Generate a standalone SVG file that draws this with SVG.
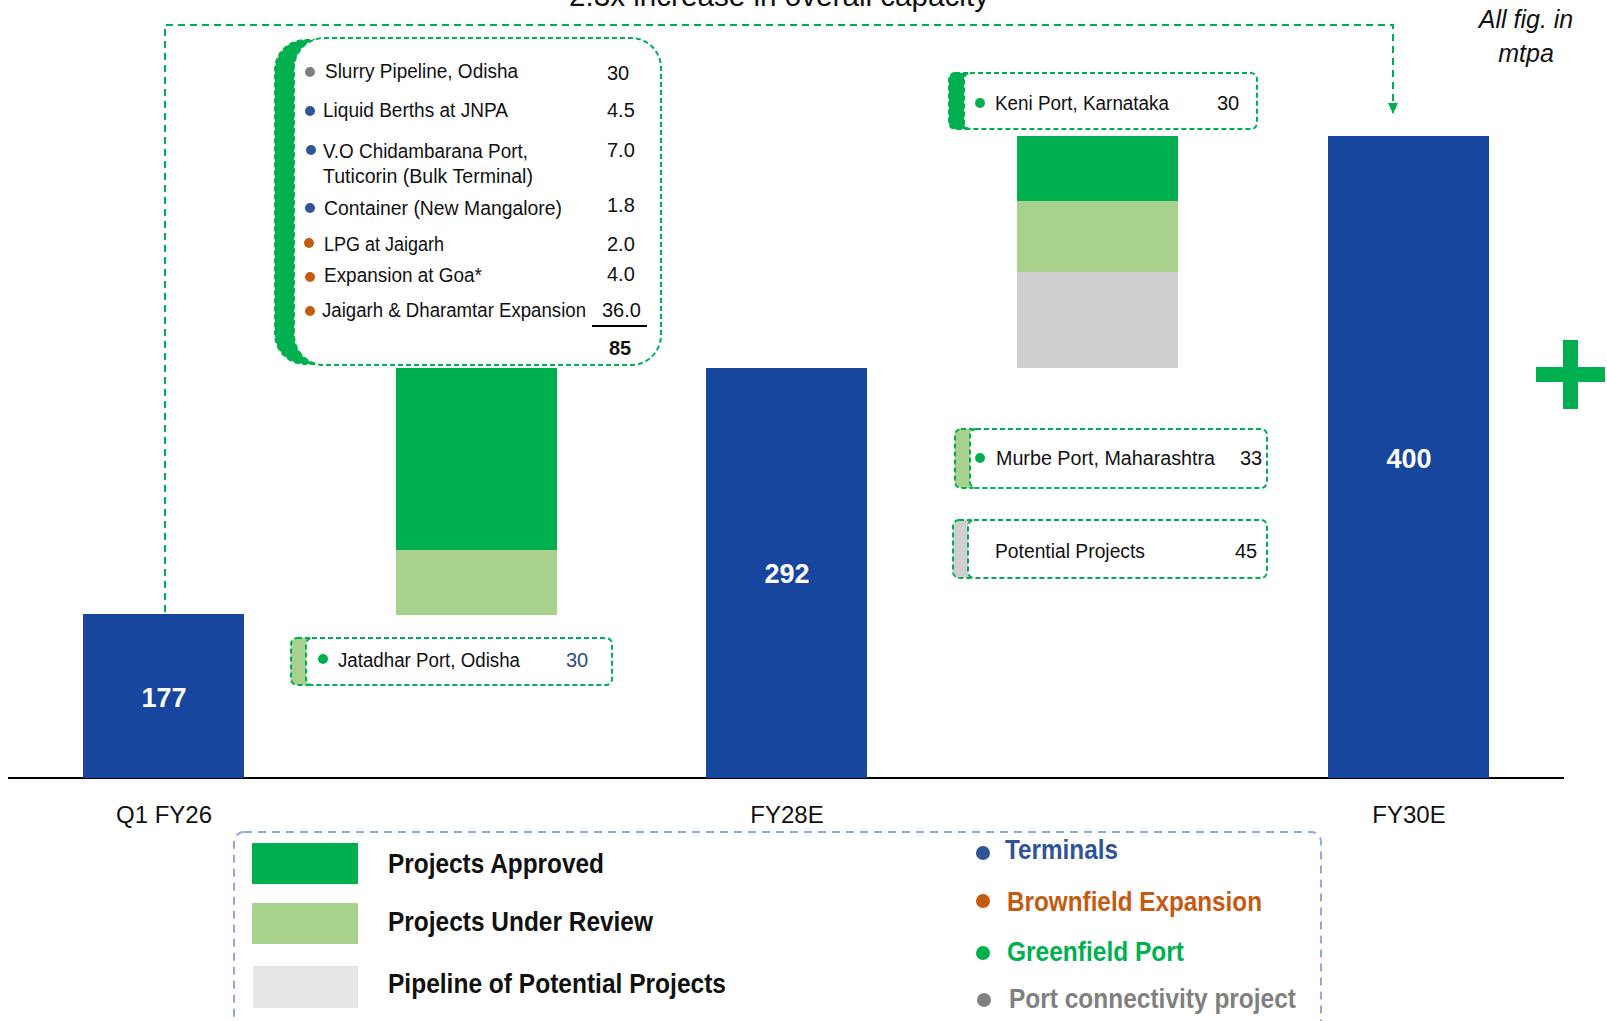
<svg xmlns="http://www.w3.org/2000/svg" width="1607" height="1021" viewBox="0 0 1607 1021">
<style>
text{font-family:"Liberation Sans",Arial,sans-serif;fill:#111}
.bar{fill:#17469E}
.g{fill:#00B050}
.lg{fill:#A9D18E}
.gr{fill:#D0CECE}
.barlbl{font-size:27px;font-weight:bold;fill:#fff;text-anchor:middle}
.cat{font-size:24px;text-anchor:middle}
.box{fill:#fff;stroke:#00B050;stroke-width:2;stroke-dasharray:5 3}
.strip{stroke:#00B050;stroke-width:2;stroke-dasharray:5 3}
.it{font-size:20px}
.val{font-size:20px}
.leg{font-size:27px;font-weight:bold}
.conn{fill:none;stroke:#00B050;stroke-width:2;stroke-dasharray:7 5}
</style>
<defs>
<marker id="arr" markerWidth="12" markerHeight="10" refX="10" refY="5" orient="auto" markerUnits="userSpaceOnUse">
<path d="M0,0 L11,5 L0,10 Z" fill="#00B050"/>
</marker>
</defs>

<text x="779" y="6" font-size="29" text-anchor="middle" textLength="420" lengthAdjust="spacingAndGlyphs">2.3x increase in overall capacity</text>

<g id="connectors">
<path class="conn" d="M165,612 V25 H1393 V113" marker-end="url(#arr)"/>
</g>

<line x1="8" y1="778" x2="1564" y2="778" stroke="#000" stroke-width="2"/>

<g id="bar-q1fy26">
<rect class="bar" x="83" y="614" width="161" height="164"/>
<text class="barlbl" x="164" y="707">177</text>
<text class="cat" x="164" y="823">Q1 FY26</text>
</g>

<g id="bar-add-1">
<rect class="g" x="396" y="368" width="161" height="182"/>
<rect class="lg" x="396" y="550" width="161" height="65"/>
</g>

<g id="bar-fy28e">
<rect class="bar" x="706" y="368" width="161" height="410"/>
<text class="barlbl" x="787" y="583">292</text>
<text class="cat" x="787" y="823">FY28E</text>
</g>

<g id="bar-add-2">
<rect class="g" x="1017" y="136" width="161" height="65"/>
<rect class="lg" x="1017" y="201" width="161" height="71"/>
<rect class="gr" x="1017" y="272" width="161" height="96"/>
</g>

<g id="bar-fy30e">
<rect class="bar" x="1328" y="136" width="161" height="642"/>
<text class="barlbl" x="1409" y="468">400</text>
<text class="cat" x="1409" y="823">FY30E</text>
</g>

<g id="box-projects">
<rect x="275" y="40" width="90" height="324" rx="30" class="g strip"/>
<rect class="box" x="294" y="38" width="367" height="327" rx="30"/>
<circle cx="310" cy="72" r="5" fill="#808080"/>
<text class="it" x="325" y="78" textLength="193" lengthAdjust="spacingAndGlyphs">Slurry Pipeline, Odisha</text>
<text class="val" x="607" y="80">30</text>
<circle cx="310" cy="111" r="5" fill="#2F5597"/>
<text class="it" x="323" y="117" textLength="185" lengthAdjust="spacingAndGlyphs">Liquid Berths at  JNPA</text>
<text class="val" x="607" y="117">4.5</text>
<circle cx="311" cy="150" r="5" fill="#2F5597"/>
<text class="it" x="323" y="158" textLength="205" lengthAdjust="spacingAndGlyphs">V.O Chidambarana Port,</text>
<text class="it" x="323" y="183" textLength="210" lengthAdjust="spacingAndGlyphs">Tuticorin (Bulk Terminal)</text>
<text class="val" x="607" y="157">7.0</text>
<circle cx="310" cy="208" r="5" fill="#2F5597"/>
<text class="it" x="324" y="215" textLength="238" lengthAdjust="spacingAndGlyphs">Container (New Mangalore)</text>
<text class="val" x="607" y="212">1.8</text>
<circle cx="309" cy="243" r="5" fill="#C55A11"/>
<text class="it" x="324" y="251" textLength="120" lengthAdjust="spacingAndGlyphs">LPG at Jaigarh</text>
<text class="val" x="607" y="251">2.0</text>
<circle cx="310" cy="277" r="5" fill="#C55A11"/>
<text class="it" x="324" y="282" textLength="158" lengthAdjust="spacingAndGlyphs">Expansion at Goa*</text>
<text class="val" x="607" y="281">4.0</text>
<circle cx="310" cy="311" r="5" fill="#C55A11"/>
<text class="it" x="322" y="317" textLength="264" lengthAdjust="spacingAndGlyphs">Jaigarh &amp; Dharamtar Expansion</text>
<text class="val" x="602" y="317">36.0</text>
<line x1="592" y1="326" x2="647" y2="326" stroke="#000" stroke-width="2"/>
<text x="609" y="355" font-size="20" font-weight="bold">85</text>
</g>

<g id="box-keni">
<rect x="949" y="73" width="24" height="56" rx="6" class="g strip"/>
<rect class="box" x="964" y="73" width="293" height="56" rx="6"/>
<circle cx="980" cy="103" r="5" fill="#00B050"/>
<text class="it" x="995" y="110" textLength="174" lengthAdjust="spacingAndGlyphs">Keni Port, Karnataka</text>
<text class="val" x="1217" y="110">30</text>
</g>

<g id="box-murbe">
<rect x="955" y="429" width="22" height="59" rx="6" class="lg strip"/>
<rect class="box" x="970" y="429" width="297" height="59" rx="6"/>
<circle cx="980" cy="458" r="5" fill="#00B050"/>
<text class="it" x="996" y="465" textLength="219" lengthAdjust="spacingAndGlyphs">Murbe Port, Maharashtra</text>
<text class="val" x="1240" y="465">33</text>
</g>

<g id="box-potential">
<rect x="953" y="520" width="22" height="58" rx="6" class="gr strip"/>
<rect class="box" x="968" y="520" width="299" height="58" rx="6"/>
<text class="it" x="995" y="558" textLength="150" lengthAdjust="spacingAndGlyphs">Potential Projects</text>
<text class="val" x="1235" y="558">45</text>
</g>

<g id="box-jatadhar">
<rect x="291" y="638" width="24" height="47" rx="6" class="lg strip"/>
<rect class="box" x="306" y="638" width="306" height="47" rx="6"/>
<circle cx="323" cy="659" r="5" fill="#00B050"/>
<text class="it" x="338" y="667" textLength="182" lengthAdjust="spacingAndGlyphs">Jatadhar Port, Odisha</text>
<text class="val" x="566" y="667" style="fill:#2F4B7C">30</text>
</g>

<g id="note">
<text x="1526" y="28" font-size="25" font-style="italic" text-anchor="middle">All fig. in</text>
<text x="1526" y="62" font-size="25" font-style="italic" text-anchor="middle">mtpa</text>
</g>

<g id="plus">
<rect class="g" x="1563" y="340" width="15" height="69"/>
<rect class="g" x="1536" y="367" width="69" height="15"/>
</g>

<g id="legend">
<rect x="234" y="832" width="1087" height="200" rx="10" fill="none" stroke="#8EA9DB" stroke-width="2" stroke-dasharray="8 6"/>
<rect class="g" x="252" y="843" width="106" height="41"/>
<text class="leg" x="388" y="873" textLength="216" lengthAdjust="spacingAndGlyphs">Projects Approved</text>
<rect class="lg" x="252" y="903" width="106" height="41"/>
<text class="leg" x="388" y="931" textLength="265" lengthAdjust="spacingAndGlyphs">Projects Under Review</text>
<rect x="253" y="966" width="105" height="42" fill="#E6E6E6"/>
<text class="leg" x="388" y="993" textLength="338" lengthAdjust="spacingAndGlyphs">Pipeline of Potential Projects</text>
<circle cx="983" cy="853" r="7" fill="#2F5597"/>
<text class="leg" x="1005" y="859" textLength="113" lengthAdjust="spacingAndGlyphs" style="fill:#2F5597">Terminals</text>
<circle cx="983" cy="901" r="7" fill="#C55A11"/>
<text class="leg" x="1007" y="911" textLength="255" lengthAdjust="spacingAndGlyphs" style="fill:#C55A11">Brownfield Expansion</text>
<circle cx="983" cy="953" r="7" fill="#00B050"/>
<text class="leg" x="1007" y="961" textLength="177" lengthAdjust="spacingAndGlyphs" style="fill:#00B050">Greenfield Port</text>
<circle cx="984" cy="1000" r="7" fill="#808080"/>
<text class="leg" x="1009" y="1008" textLength="287" lengthAdjust="spacingAndGlyphs" style="fill:#808080">Port connectivity project</text>
</g>
</svg>
